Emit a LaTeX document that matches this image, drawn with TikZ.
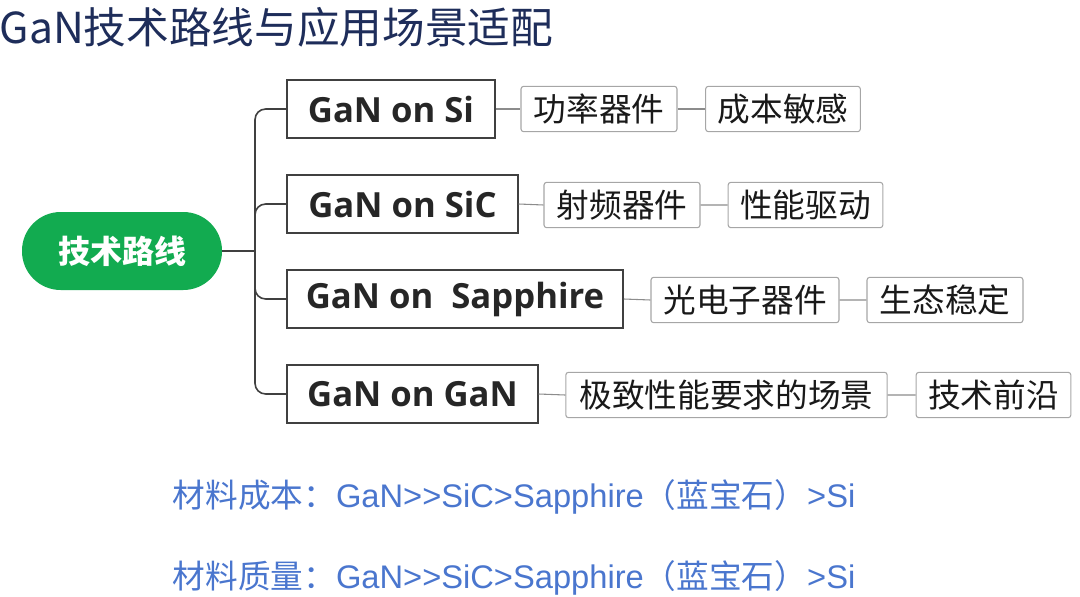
\documentclass[tikz,border=0pt]{standalone}
\usepackage{fontspec}
\setmainfont{Open Sans}
\newfontfamily\cjk{Noto Sans CJK SC}
\newfontfamily\lat{Liberation Sans}
\begin{document}
\begin{tikzpicture}[x=0.75pt,y=-0.75pt,
  main/.style={draw=black!75,line width=1.2pt,minimum height=43.5pt,inner xsep=0pt,font=\fontsize{26}{30}\bfseries\selectfont,text=black!85},
  sub/.style={draw=black!35,line width=0.8pt,rounded corners=2pt,minimum height=34pt,inner xsep=0pt,font=\cjk\fontsize{24.5}{28}\selectfont,text=black!90},
  ln/.style={draw=black!75,line width=1.2pt},
  sl/.style={draw=black!45,line width=0.8pt},
  note/.style={anchor=west,font=\cjk\fontsize{22}{26}\selectfont,text={rgb,255:red,74;green,118;blue,206}}]
\useasboundingbox (0,0) rectangle (1080,596);
\node[anchor=west,font=\cjk\fontsize{32}{35}\selectfont,text={rgb,255:red,30;green,45;blue,90}] (t) at (-5,27) {GaN技术路线与应用场景适配};
\node[fill={rgb,255:red,18;green,171;blue,80},rounded corners=29pt,minimum width=150pt,minimum height=58.5pt,text=white,font=\cjk\fontsize{24}{28}\bfseries\selectfont] (r) at (122,251) {技术路线};
\node[main,minimum width=156pt] (a) at (391,109) {GaN on Si};
\node[main,minimum width=173pt] (b) at (402.5,204) {GaN on SiC};
\node[main,minimum width=252pt] (c) at (455,299) {GaN on\ \ Sapphire};
\node[main,minimum width=188pt] (d) at (412.5,394) {GaN on GaN};
\node[sub,minimum width=117pt] (a1) at (599,109) {功率器件};
\node[sub,minimum width=116pt] (a2) at (783,109) {成本敏感};
\node[sub,minimum width=117pt] (b1) at (622,205) {射频器件};
\node[sub,minimum width=116pt] (b2) at (805.5,205) {性能驱动};
\node[sub,minimum width=141pt] (c1) at (745,300) {光电子器件};
\node[sub,minimum width=117pt] (c2) at (945,300) {生态稳定};
\node[sub,minimum width=241pt] (d1) at (726.5,395) {极致性能要求的场景};
\node[sub,minimum width=116pt] (d2) at (993.5,395) {技术前沿};
\coordinate (j) at (255,251);
\draw[ln] (r.east) -- (j);
\draw[ln,rounded corners=8pt] (j) |- (a.west);
\draw[ln,rounded corners=8pt] (j) |- (b.west);
\draw[ln,rounded corners=8pt] (j) |- (c.west);
\draw[ln,rounded corners=8pt] (j) |- (d.west);
\draw[sl] (a.east) -- (a1.west) (a1.east) -- (a2.west);
\draw[sl] (b.east) -- (b1.west) (b1.east) -- (b2.west);
\draw[sl] (c.east) -- (c1.west) (c1.east) -- (c2.west);
\draw[sl] (d.east) -- (d1.west) (d1.east) -- (d2.west);
\node[note,font=\cjk\fontsize{24.5}{28}\selectfont] (n1) at (168,497) {材料成本：{\lat GaN>>SiC>Sapphire}（蓝宝石）{\lat >Si}};
\node[note,font=\cjk\fontsize{24.5}{28}\selectfont] (n2) at (168,578) {材料质量：{\lat GaN>>SiC>Sapphire}（蓝宝石）{\lat >Si}};
\end{tikzpicture}
\end{document}
